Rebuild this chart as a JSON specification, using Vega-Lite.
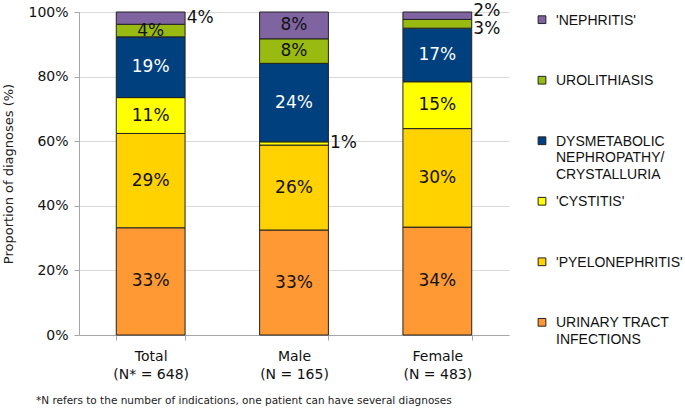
{
  "$schema": "https://vega.github.io/schema/vega-lite/v6.json",
  "background": "white",
  "padding": {"left": 2, "top": 1, "right": 0, "bottom": 0},
  "config": {"view": {"stroke": null}, "font": "DejaVu Sans", "concat": {"spacing": 23}},
  "datasets": {
    "d": [
      {"category": "Total", "diagnosis": "URINARY TRACT INFECTIONS", "value": 33.2, "label": "33%"},
      {"category": "Total", "diagnosis": "'PYELONEPHRITIS'", "value": 29.2, "label": "29%"},
      {"category": "Total", "diagnosis": "'CYSTITIS'", "value": 11.1, "label": "11%"},
      {"category": "Total", "diagnosis": "DYSMETABOLIC NEPHROPATHY/ CRYSTALLURIA", "value": 18.8, "label": "19%"},
      {"category": "Total", "diagnosis": "UROLITHIASIS", "value": 3.9, "label": "4%"},
      {"category": "Total", "diagnosis": "'NEPHRITIS'", "value": 3.8, "label": "4%"},
      {"category": "Male", "diagnosis": "URINARY TRACT INFECTIONS", "value": 32.5, "label": "33%"},
      {"category": "Male", "diagnosis": "'PYELONEPHRITIS'", "value": 26.3, "label": "26%"},
      {"category": "Male", "diagnosis": "'CYSTITIS'", "value": 1.0, "label": "1%"},
      {"category": "Male", "diagnosis": "DYSMETABOLIC NEPHROPATHY/ CRYSTALLURIA", "value": 24.3, "label": "24%"},
      {"category": "Male", "diagnosis": "UROLITHIASIS", "value": 7.6, "label": "8%"},
      {"category": "Male", "diagnosis": "'NEPHRITIS'", "value": 8.3, "label": "8%"},
      {"category": "Female", "diagnosis": "URINARY TRACT INFECTIONS", "value": 33.4, "label": "34%"},
      {"category": "Female", "diagnosis": "'PYELONEPHRITIS'", "value": 30.5, "label": "30%"},
      {"category": "Female", "diagnosis": "'CYSTITIS'", "value": 14.5, "label": "15%"},
      {"category": "Female", "diagnosis": "DYSMETABOLIC NEPHROPATHY/ CRYSTALLURIA", "value": 16.6, "label": "17%"},
      {"category": "Female", "diagnosis": "UROLITHIASIS", "value": 2.7, "label": "3%"},
      {"category": "Female", "diagnosis": "'NEPHRITIS'", "value": 2.3, "label": "2%"}
    ]
  },
  "data": {"name": "d"},
  "transform": [
    {"window": [{"op": "row_number", "as": "k"}], "groupby": ["category"]}
  ],
  "title": {
    "text": "*N refers to the number of indications, one patient can have several diagnoses",
    "orient": "bottom",
    "anchor": "start",
    "frame": "bounds",
    "fontSize": 10.5,
    "fontWeight": "normal",
    "font": "DejaVu Sans",
    "color": "#222",
    "offset": 14,
    "dx": 33
  },
  "hconcat": [
    {
      "width": 430,
      "height": 323,
      "transform": [
        {"stack": "value", "groupby": ["category"], "sort": [{"field": "k", "order": "ascending"}], "as": ["y0", "y1"]},
        {"calculate": "(datum.y0 + datum.y1) / 2", "as": "mid"}
      ],
      "encoding": {
        "x": {
          "field": "category",
          "type": "nominal",
          "sort": ["Total", "Male", "Female"],
          "scale": {"paddingInner": 0.52, "paddingOuter": 0.26},
          "axis": {
            "title": null,
            "labelAngle": 0,
            "labelExpr": "datum.label == 'Total' ? ['Total', '(N* = 648)'] : datum.label == 'Male' ? ['Male', '(N = 165)'] : datum.label == 'Female' ? ['Female', '(N = 483)'] : ''",
            "labelFontSize": 14,
            "labelColor": "#111",
            "labelLineHeight": 18.5,
            "labelPadding": 9,
            "tickBand": "extent",
            "tickSize": 5,
            "tickColor": "#a6a6a6",
            "domainColor": "#a6a6a6"
          }
        }
      },
      "layer": [
        {
          "mark": {"type": "bar", "stroke": "#222", "strokeWidth": 1},
          "encoding": {
            "y": {
              "field": "y0",
              "type": "quantitative",
              "scale": {"domain": [0, 100], "nice": false},
              "axis": {
                "title": "Proportion of diagnoses (%)",
                "titleFontSize": 13,
                "titleFontWeight": "normal",
                "titleColor": "#222",
                "titlePadding": 12,
                "values": [0, 10, 20, 30, 40, 50, 60, 70, 80, 90, 100],
                "labelExpr": "datum.value + '%'",
                "labelOverlap": false,
                "labelFontSize": 14,
                "labelColor": "#111",
                "labelPadding": 6,
                "tickSize": 5,
                "tickColor": "#a6a6a6",
                "domainColor": "#a6a6a6",
                "gridColor": "#d9d9d9"
              }
            },
            "y2": {"field": "y1"},
            "color": {
              "field": "diagnosis",
              "type": "nominal",
              "scale": {
                "domain": ["'NEPHRITIS'", "UROLITHIASIS", "DYSMETABOLIC NEPHROPATHY/ CRYSTALLURIA", "'CYSTITIS'", "'PYELONEPHRITIS'", "URINARY TRACT INFECTIONS"],
                "range": ["#8064a2", "#99bb11", "#00407f", "#ffff00", "#ffd200", "#ff9933"]
              },
              "legend": null
            }
          }
        },
        {
          "transform": [
            {"filter": "!((datum.category == 'Total' && datum.k == 6) || (datum.category == 'Male' && datum.k == 3) || (datum.category == 'Female' && datum.k >= 5))"}
          ],
          "mark": {"type": "text", "fontSize": 17, "align": "center", "baseline": "middle"},
          "encoding": {
            "y": {"field": "mid", "type": "quantitative"},
            "text": {"field": "label"},
            "color": {"condition": {"test": "datum.k == 4", "value": "white"}, "value": "#111"}
          }
        },
        {
          "transform": [
            {"filter": "(datum.category == 'Total' && datum.k == 6) || (datum.category == 'Male' && datum.k == 3)"}
          ],
          "mark": {"type": "text", "fontSize": 17, "align": "left", "baseline": "middle", "dx": 36, "color": "#111"},
          "encoding": {
            "y": {"field": "mid", "type": "quantitative"},
            "text": {"field": "label"}
          }
        },
        {
          "transform": [{"filter": "datum.category == 'Female' && datum.k == 6"}],
          "mark": {"type": "text", "fontSize": 17, "align": "left", "baseline": "middle", "dx": 36, "dy": -5, "color": "#111"},
          "encoding": {
            "y": {"field": "mid", "type": "quantitative"},
            "text": {"field": "label"}
          }
        },
        {
          "transform": [{"filter": "datum.category == 'Female' && datum.k == 5"}],
          "mark": {"type": "text", "fontSize": 17, "align": "left", "baseline": "middle", "dx": 36, "dy": 5, "color": "#111"},
          "encoding": {
            "y": {"field": "mid", "type": "quantitative"},
            "text": {"field": "label"}
          }
        }
      ]
    },
    {
      "width": 20,
      "height": 318,
      "transform": [
        {"filter": "datum.category == 'Total'"},
        {"calculate": "datum.k == 4 ? split(datum.diagnosis, ' ') : datum.k == 1 ? ['URINARY TRACT', 'INFECTIONS'] : datum.diagnosis", "as": "legendText"}
      ],
      "encoding": {
        "y": {
          "field": "diagnosis",
          "type": "nominal",
          "scale": {
            "type": "point",
            "domain": ["'NEPHRITIS'", "UROLITHIASIS", "DYSMETABOLIC NEPHROPATHY/ CRYSTALLURIA", "'CYSTITIS'", "'PYELONEPHRITIS'", "URINARY TRACT INFECTIONS"],
            "padding": 0.127
          },
          "axis": null
        }
      },
      "layer": [
        {
          "mark": {"type": "square", "size": 60, "filled": true, "opacity": 1, "stroke": "#222", "strokeWidth": 1},
          "encoding": {
            "color": {"field": "diagnosis", "type": "nominal", "legend": null}
          }
        },
        {
          "mark": {"type": "text", "align": "left", "baseline": "alphabetic", "dx": 14, "dy": 5, "font": "Liberation Sans", "fontSize": 14, "lineHeight": 16.5, "color": "#111"},
          "encoding": {
            "text": {"field": "legendText"}
          }
        }
      ]
    }
  ]
}
